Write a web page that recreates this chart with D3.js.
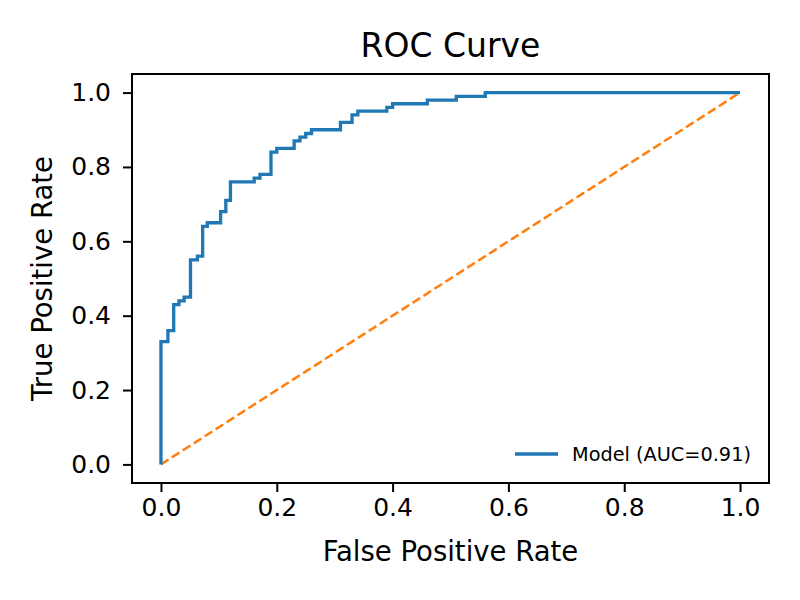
<!DOCTYPE html>
<html>
<head>
<meta charset="utf-8">
<script src="https://cdn.jsdelivr.net/npm/d3@7"></script>
<style>
  body { margin: 0; background: #fff; }
  text { font-family: "DejaVu Sans", sans-serif; fill: #000; }
</style>
</head>
<body>
<div id="chart"></div>
<script>
// roc points (step corners)
var fpr = [0, 0, 0.012, 0.012, 0.022, 0.022, 0.031, 0.031, 0.04, 0.04, 0.051, 0.051, 0.063, 0.063, 0.072, 0.072,
           0.08, 0.08, 0.103, 0.103, 0.112, 0.112, 0.12, 0.12, 0.161, 0.161, 0.171, 0.171, 0.19, 0.19, 0.2, 0.2,
           0.23, 0.23, 0.24, 0.24, 0.25, 0.25, 0.26, 0.26, 0.31, 0.31, 0.33, 0.33, 0.34, 0.34, 0.39, 0.39,
           0.40, 0.40, 0.46, 0.46, 0.51, 0.51, 0.56, 0.56, 1.0];
var tpr = [0, 0.33, 0.33, 0.36, 0.36, 0.43, 0.43, 0.44, 0.44, 0.45, 0.45, 0.55, 0.55, 0.56, 0.56, 0.64,
           0.64, 0.65, 0.65, 0.68, 0.68, 0.71, 0.71, 0.76, 0.76, 0.77, 0.77, 0.78, 0.78, 0.84, 0.84, 0.85,
           0.85, 0.87, 0.87, 0.88, 0.88, 0.89, 0.89, 0.90, 0.90, 0.92, 0.92, 0.94, 0.94, 0.95, 0.95, 0.96,
           0.96, 0.97, 0.97, 0.98, 0.98, 0.99, 0.99, 1.0, 1.0];
var chance = [0, 1];
var ticks = [0, 0.2, 0.4, 0.6, 0.8, 1.0];
var aucLabel = "Model (AUC=0.91)";

var w = 800, h = 600;
var padL = 132, padR = 769, padT = 74, padB = 483;

var svg = d3.select("#chart").append("svg")
  .attr("width", w).attr("height", h);

var x = d3.scaleLinear().domain([-0.05, 1.05]).range([padL, padR]);
var y = d3.scaleLinear().domain([-0.05, 1.05]).range([padB, padT]);

// chance line
svg.append("path")
  .datum(chance)
  .attr("d", d3.line().x(function(d){return x(d);}).y(function(d){return y(d);}))
  .attr("fill", "none")
  .attr("stroke", "#ff7f0e")
  .attr("stroke-width", 2.5)
  .attr("stroke-dasharray", "9,4");

// roc curve
var pts = fpr.map(function(f, i){ return [f, tpr[i]]; });
svg.append("path")
  .datum(pts)
  .attr("d", d3.line().x(function(d){return x(d[0]);}).y(function(d){return y(d[1]);}))
  .attr("fill", "none")
  .attr("stroke", "#1f77b4")
  .attr("stroke-width", 3.3)
  .attr("stroke-linejoin", "miter");

// axes
var xAxis = svg.append("g")
  .attr("transform", "translate(0," + padB + ")")
  .call(d3.axisBottom(x).tickValues(ticks).tickFormat(d3.format(".1f")).tickSize(9).tickPadding(6));
var yAxis = svg.append("g")
  .attr("transform", "translate(" + padL + ",0)")
  .call(d3.axisLeft(y).tickValues(ticks).tickFormat(d3.format(".1f")).tickSize(9).tickPadding(12));

[xAxis, yAxis].forEach(function(a){
  a.select(".domain").remove();
  a.selectAll(".tick line").attr("stroke", "#000").attr("stroke-width", 2);
  a.selectAll(".tick text").attr("font-size", 25).attr("font-family", "DejaVu Sans").attr("fill", "#000");
});

// frame
svg.append("rect")
  .attr("x", padL).attr("y", padT)
  .attr("width", padR - padL).attr("height", padB - padT)
  .attr("fill", "none").attr("stroke", "#000").attr("stroke-width", 2);

// title and labels
svg.append("text")
  .attr("x", (padL + padR) / 2).attr("y", 57)
  .attr("text-anchor", "middle").attr("font-size", 33)
  .text("ROC Curve");

svg.append("text")
  .attr("x", (padL + padR) / 2).attr("y", 561)
  .attr("text-anchor", "middle").attr("font-size", 27.5)
  .text("False Positive Rate");

svg.append("text")
  .attr("transform", "translate(52," + (padT + padB) / 2 + ") rotate(-90)")
  .attr("text-anchor", "middle").attr("font-size", 27.5)
  .text("True Positive Rate");

// legend
svg.append("line")
  .attr("x1", 515).attr("x2", 558).attr("y1", 454).attr("y2", 454)
  .attr("stroke", "#1f77b4").attr("stroke-width", 3.3);
svg.append("text")
  .attr("x", 572).attr("y", 461)
  .attr("font-size", 19.3).attr("fill", "#222")
  .text(aucLabel);
</script>
</body>
</html>
